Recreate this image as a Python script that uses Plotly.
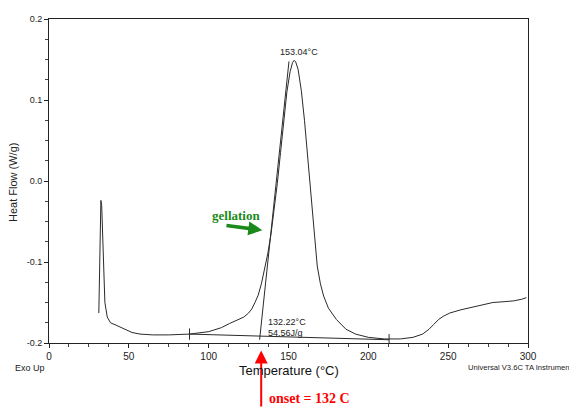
import plotly.graph_objects as go

# DSC curve: temperature (°C) and heat flow (W/g)
temperature = [31.2, 31.6, 32.0, 32.5, 33.0, 33.4, 34.0, 35.0, 36.5, 38.5, 42, 47, 52, 57, 65, 75, 88,
               100, 108, 113, 118, 122, 125, 127, 129, 131, 133, 135, 137, 139, 141, 143, 145, 147,
               149, 151, 152.5, 153.5, 154.5, 156, 158, 160, 162, 163.5, 165, 166.5, 168, 170, 172,
               175, 180, 186, 192, 200, 210, 220, 228, 234, 238, 241, 244, 247, 251, 258, 265,
               272, 278, 285, 291, 296, 299]
heat_flow = [-0.163, -0.120, -0.060, -0.024, -0.030, -0.060, -0.110, -0.150, -0.168, -0.175, -0.178,
             -0.183, -0.187, -0.189, -0.190, -0.190, -0.189, -0.186, -0.181, -0.176, -0.172, -0.168,
             -0.163, -0.158, -0.150, -0.141, -0.127, -0.110, -0.090, -0.066, -0.036, -0.003, 0.035,
             0.075, 0.110, 0.135, 0.146, 0.149, 0.147, 0.138, 0.112, 0.075, 0.030, -0.005, -0.040,
             -0.075, -0.105, -0.127, -0.142, -0.157, -0.171, -0.183, -0.189, -0.193, -0.195, -0.195,
             -0.193, -0.189, -0.183, -0.177, -0.171, -0.167, -0.163, -0.159, -0.156, -0.153, -0.150,
             -0.149, -0.148, -0.146, -0.144]

# integration baseline and onset tangent
baseline_t = [88, 213]
baseline_v = [-0.189, -0.196]
tangent_t = [131.9, 150.3]
tangent_v = [-0.196, 0.1476]
limit_marks_t = [88, 213]
limit_marks_v = [(-0.182, -0.196), (-0.189, -0.203)]

x_ticks = [0, 50, 100, 150, 200, 250, 300]
y_ticks = [-0.2, -0.1, 0.0, 0.1, 0.2]
y_tick_text = ["-0.2", "-0.1", "0.0", "0.1", "0.2"]

peak_label = "153.04°C"
onset_label = "132.22°C"
enthalpy_label = "54.56J/g"
onset_temp = 132.9

# plot-area geometry (pixels of the figure)
fig_w, fig_h = 569, 400
m_l, m_r, m_t, m_b = 41, 49, 6, 65
plot_h = fig_h - m_t - m_b
axis_bottom = fig_h - m_b


def py(px_fig):
    """figure-pixel row -> paper y"""
    return (axis_bottom - px_fig) / plot_h


line_col = "#2a2a2a"
fig = go.Figure()
fig.add_trace(go.Scatter(x=temperature, y=heat_flow, mode="lines",
                         line=dict(color=line_col, width=1), hoverinfo="skip"))
fig.add_trace(go.Scatter(x=baseline_t, y=baseline_v, mode="lines",
                         line=dict(color=line_col, width=1), hoverinfo="skip"))
fig.add_trace(go.Scatter(x=tangent_t, y=tangent_v, mode="lines",
                         line=dict(color=line_col, width=1), hoverinfo="skip"))
for t, (v0, v1) in zip(limit_marks_t, limit_marks_v):
    fig.add_trace(go.Scatter(x=[t, t], y=[v0, v1], mode="lines",
                             line=dict(color=line_col, width=1), hoverinfo="skip"))

sans = "Liberation Sans, Arial, sans-serif"
serif = "Liberation Serif, Times New Roman, serif"
ann = []
ann.append(dict(x=156.5, y=0.1595, xref="x", yref="y", text=peak_label, showarrow=False,
                font=dict(family=sans, size=9, color="#222")))
ann.append(dict(x=135.9, y=-0.1738, xref="x", yref="y", text=onset_label, showarrow=False,
                xanchor="left", yanchor="middle", font=dict(family=sans, size=9, color="#222")))
ann.append(dict(x=135.9, y=-0.188, xref="x", yref="y", text=enthalpy_label, showarrow=False,
                xanchor="left", yanchor="middle", font=dict(family=sans, size=9, color="#222")))
ann.append(dict(x=117.1, y=-0.0429, xref="x", yref="y", text="<b>gellation</b>", showarrow=False,
                font=dict(family=serif, size=13, color="#1a8a1a")))
ann.append(dict(x=133.6, y=-0.0607, xref="x", yref="y", ax=110.2, ay=-0.0548,
                axref="x", ayref="y", text="", showarrow=True, arrowhead=2, arrowsize=0.8,
                arrowwidth=3.5, arrowcolor="#1a8a1a"))
# red onset arrow and label sit below the axis, so they use paper y
ann.append(dict(x=onset_temp, y=py(342.7), xref="x", yref="paper", ax=0, ay=60,
                text="", showarrow=True, arrowhead=2, arrowsize=1.3,
                arrowwidth=2, arrowcolor="#ff0000"))
ann.append(dict(x=136.5, y=py(391), xref="x", yref="paper", text="<b>onset = 132 C</b>",
                showarrow=False, xanchor="left", yanchor="middle",
                font=dict(family=serif, size=14, color="#ff0000")))
ann.append(dict(x=0.501, y=py(362.7), xref="paper", yref="paper", text="Temperature (°C)",
                xanchor="center", yanchor="middle",
                showarrow=False, font=dict(family=sans, size=13, color="#111")))
ann.append(dict(x=-0.075, y=py(360), xref="paper", yref="paper", text="Exo Up",
                xanchor="left", yanchor="middle",
                showarrow=False, font=dict(family=sans, size=9, color="#222")))
ann.append(dict(x=0.8706, y=py(360), xref="paper", yref="paper",
                text="Universal V3.6C TA Instruments", xanchor="left", yanchor="middle",
                showarrow=False, font=dict(family=sans, size=7.6, color="#222")))
ann.append(dict(x=-0.074, y=py(172), xref="paper", yref="paper", text="Heat Flow (W/g)",
                xanchor="center", yanchor="middle",
                textangle=-90, showarrow=False, font=dict(family=sans, size=11, color="#222")))

# the page body adds an 8px offset, so the figure is sized to fit the 577x408 window
fig.update_layout(
    width=fig_w, height=fig_h,
    margin=dict(l=m_l, r=m_r, t=m_t, b=m_b),
    paper_bgcolor="white", plot_bgcolor="white",
    showlegend=False,
    annotations=ann,
    xaxis=dict(range=[0, 300], tickvals=x_ticks, showgrid=False, zeroline=False,
               showline=True, linecolor="#222", linewidth=1, mirror=True,
               ticks="outside", ticklen=4, tickcolor="#222",
               minor=dict(dtick=12.5, ticks="outside", ticklen=3, tickcolor="#444"),
               tickfont=dict(family=sans, size=10, color="#222")),
    yaxis=dict(range=[-0.2, 0.2], tickvals=y_ticks, ticktext=y_tick_text, showgrid=False,
               zeroline=False, showline=True, linecolor="#222", linewidth=1, mirror=True,
               ticks="outside", ticklen=4, tickcolor="#222",
               minor=dict(dtick=0.025, ticks="outside", ticklen=3, tickcolor="#444"),
               tickfont=dict(family=sans, size=9, color="#222")),
)
fig.write_html("out.html")
